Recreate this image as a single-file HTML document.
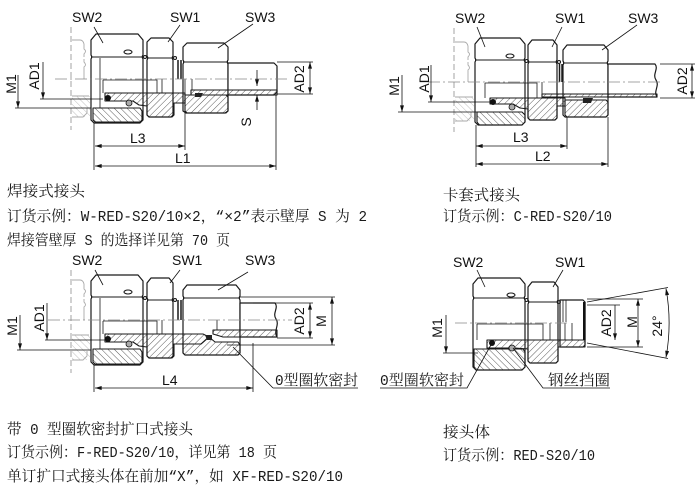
<!DOCTYPE html>
<html><head><meta charset="utf-8">
<style>
html,body{margin:0;padding:0;background:#fff;}
svg{display:block;}
.o{fill:#fff;stroke:#1a1a1a;stroke-width:1.2;stroke-linejoin:round}
.h{stroke:#1a1a1a;stroke-width:1.1;stroke-linejoin:round}
.l{fill:none;stroke:#1a1a1a;stroke-width:1.1}
.t{fill:none;stroke:#1a1a1a;stroke-width:0.8}
.d{fill:none;stroke:#111;stroke-width:0.8}
.c{fill:none;stroke:#888;stroke-width:0.8;stroke-dasharray:12 3 2 3}
.g{fill:none;stroke:#aaa;stroke-width:0.9}
.gd{fill:none;stroke:#9a9a9a;stroke-width:0.9;stroke-dasharray:6 3}
.lab{font-family:"Liberation Sans","DejaVu Sans",sans-serif;font-size:14px;fill:#111}
.cn{font-family:"Liberation Mono","Noto Serif CJK SC",serif;font-size:15px;fill:#1a1a1a}
.m{font-size:14.5px}
</style></head><body>
<svg width="700" height="487" viewBox="0 0 700 487" xmlns="http://www.w3.org/2000/svg">
<defs>
<pattern id="hf" width="4.5" height="4.5" patternUnits="userSpaceOnUse" patternTransform="rotate(45)"><line x1="0" y1="0" x2="0" y2="4.5" stroke="#333" stroke-width="0.8"/></pattern>
<pattern id="hb" width="4.5" height="4.5" patternUnits="userSpaceOnUse" patternTransform="rotate(-45)"><line x1="0" y1="0" x2="0" y2="4.5" stroke="#333" stroke-width="0.8"/></pattern>
<pattern id="hg" width="4.5" height="4.5" patternUnits="userSpaceOnUse" patternTransform="rotate(-45)"><line x1="0" y1="0" x2="0" y2="4.5" stroke="#b0b0b0" stroke-width="0.8"/></pattern>
<marker id="ar" viewBox="0 0 10 6" refX="10" refY="3" markerWidth="9" markerHeight="4" orient="auto-start-reverse" markerUnits="userSpaceOnUse"><path d="M0,0 L10,3 L0,6 Z" fill="#111"/></marker>
</defs>

<!-- ================= DRAWING 1 ================= -->
<path class="gd" d="M71,27 V130"/>
<g transform="translate(91,79)">
 <path class="g" d="M-19,-39 H-11 Q-8,-39 -7,-35 V-30 Q-4,-28 -7,-25 V-22 M-7,-20 V-17 Q-4,-14 -7,-12 V0"/>
 <rect x="-19" y="17" width="18" height="21" fill="url(#hg)"/>
 <path class="g" d="M-19,17 H-2 M-19,38 H-8 L-4,34 V29"/>
 <path class="o" d="M0,-39 L5,-45 H47 L52,-39 V-24 Q50.5,-22 52,-20 V41 L49,44 H3 L0,41 V-20 Q1.5,-22 0,-24 Z"/>
 <path class="l" d="M0,-22 H52"/>
 <ellipse class="l" cx="37" cy="-27" rx="4" ry="2"/>
 <path class="o" d="M56,-37 L60,-41 H78 L82,-37 V-23 Q80.5,-21 82,-19 V36 L80,38 H58 L56,36 V-19 Q57.5,-21 56,-23 Z"/>
 <path class="l" d="M56,-21 H82"/>
 <path class="o" d="M92,-32 L96,-36 H133 L137,-32 V-19 Q135.5,-17 137,-15 V32 L134,34 H95 L92,32 V-15 Q93.5,-17 92,-19 Z"/>
 <path class="l" d="M92,-17 H137"/>
 <path class="o" d="M137,-16 H183 L186,-13 V13 L183,16 H137 Z"/>
 <path class="h" fill="url(#hb)" d="M2,29 H49 L51,32 V41 L49,43 H4 L2,41 Z"/>
 <path class="h" fill="url(#hf)" d="M14,14 H94 V24 H83 V36 L81,38 H58 L56,36 V27 L48,26 L42,22 H14 Z"/>
 <path class="h" fill="url(#hf)" d="M94,16 H135 L137,18 V32 L135,34 H96 L94,32 Z"/>
 <path class="h" fill="url(#hf)" d="M100,11 H186 V16 H100 Z"/>
 <path class="t" d="M12,1 H66 V14 M12,1 V14 M71,0 V14 M9,-21 V29 M94,0 V14 M101,0 V11"/>
 <path d="M87,-19 V0 M90,-19 V0" stroke="#1a1a1a" stroke-width="1.5"/>
 <circle cx="54" cy="-22" r="1.5" class="l"/>
 <circle cx="84" cy="-21" r="1.5" class="l"/>
 <circle cx="17" cy="19" r="3" fill="#111"/>
 <circle cx="38" cy="24" r="3" fill="#aaa" stroke="#111" stroke-width="0.8"/>
 <path d="M104,14 L112,14 L110,18 L104,18 Z" fill="#222"/>
</g>
<path class="c" d="M55,79 H290"/>
<text class="lab" x="72" y="22">SW2</text>
<text class="lab" x="170" y="22">SW1</text>
<text class="lab" x="245" y="22">SW3</text>
<path class="d" d="M94,27 L103,43 M180,25 L168,42 M253,24 L218,48"/>
<path class="d" d="M15,108 H91 M40,99 H103"/>
<path class="d" d="M18,75 V108" marker-end="url(#ar)"/>
<path class="d" d="M43,62 V99" marker-end="url(#ar)"/>
<path class="d" d="M257,70 V86" marker-end="url(#ar)"/>
<path class="d" d="M257,110 V95" marker-end="url(#ar)"/>
<path class="d" d="M277,62 H313 M277,94 H313"/>
<path class="d" d="M310,62 V94" marker-start="url(#ar)" marker-end="url(#ar)"/>
<path class="d" d="M94,123 V170 M185,100 V150 M276,95 V170"/>
<path class="d" d="M95,146 H185" marker-start="url(#ar)" marker-end="url(#ar)"/>
<path class="d" d="M95,166 H276" marker-start="url(#ar)" marker-end="url(#ar)"/>
<text class="lab" text-anchor="middle" dy="0.35em" transform="translate(11,84) rotate(-90)">M1</text>
<text class="lab" text-anchor="middle" dy="0.35em" transform="translate(34,76) rotate(-90)">AD1</text>
<text class="lab" text-anchor="middle" dy="0.35em" transform="translate(246,122) rotate(-90)">S</text>
<text class="lab" text-anchor="middle" dy="0.35em" transform="translate(299,79) rotate(-90)">AD2</text>
<text class="lab" x="130" y="143">L3</text>
<text class="lab" x="175" y="163">L1</text>

<!-- ================= DRAWING 2 ================= -->
<path class="gd" d="M454,28 V132"/>
<g transform="translate(475,82)">
 <path class="g" d="M-20,-40 H-11 Q-8,-40 -7,-36 V-30 Q-4,-28 -7,-25 V-22 M-7,-20 V-17 Q-4,-14 -7,-12 V0"/>
 <rect x="-20" y="15" width="19" height="24" fill="url(#hg)"/>
 <path class="g" d="M-20,15 H-2 M-20,39 H-8 L-4,35 V30"/>
 <path class="o" d="M0,-38 L5,-44 H45 L50,-38 V-24 Q48.5,-22 50,-20 V40 L47,43 H3 L0,40 V-20 Q1.5,-22 0,-24 Z"/>
 <path class="l" d="M0,-22 H50"/>
 <ellipse class="l" cx="35" cy="-26" rx="4" ry="2"/>
 <path class="o" d="M53,-37 L57,-42 H78 L82,-37 V-22 Q80.5,-20 82,-18 V36 L80,38 H55 L53,36 V-18 Q54.5,-20 53,-22 Z"/>
 <path class="l" d="M53,-20 H82"/>
 <path class="o" d="M88,-32 L92,-37 H129 L133,-32 V-21 Q131.5,-19 133,-17 V33 L131,35 H90 L88,33 V-17 Q89.5,-19 88,-21 Z"/>
 <path class="l" d="M88,-19 H133"/>
 <path class="o" d="M133,-18 H180 C184,-13 177,-8 181,-2 C185,4 178,9 182,15 H133 Z"/>
 <path class="h" fill="url(#hb)" d="M2,30 H47 L50,33 V40 L47,43 H4 L2,40 Z"/>
 <path class="h" fill="url(#hf)" d="M15,16 H90 V24 H82 V36 L80,38 H55 L53,36 V27 L45,26 L38,22 H15 Z"/>
 <path class="h" fill="url(#hf)" d="M90,18 H131 L133,20 V33 L131,35 H92 L90,33 Z"/>
 <path class="h" fill="url(#hf)" d="M67,12 H182 V15 H67 Z"/>
 <path class="t" d="M10,1 H62 V16 M10,1 V16 M67,0 V12 M88,0 V12"/>
 <path d="M84.5,-18 V0 M87,-18 V0" stroke="#1a1a1a" stroke-width="1.5"/>
 <circle cx="51.5" cy="-21" r="1.5" class="l"/>
 <circle cx="84" cy="-20" r="1.5" class="l"/>
 <circle cx="18" cy="20" r="3" fill="#111"/>
 <circle cx="37" cy="25" r="3" fill="#aaa" stroke="#111" stroke-width="0.8"/>
 <path d="M108,16 L118,16 L116,21 L108,21 Z" fill="#222"/>
</g>
<path class="c" d="M428,82 H662"/>
<text class="lab" x="455" y="23">SW2</text>
<text class="lab" x="555" y="23">SW1</text>
<text class="lab" x="628" y="23">SW3</text>
<path class="d" d="M477,27 L485,47 M562,27 L552,47 M637,25 L602,50"/>
<path class="d" d="M398,112 H477 M428,102 H493"/>
<path class="d" d="M402,75 V112" marker-end="url(#ar)"/>
<path class="d" d="M431,65 V102" marker-end="url(#ar)"/>
<path class="d" d="M660,64 H695 M660,98 H695"/>
<path class="d" d="M692,64 V98" marker-start="url(#ar)" marker-end="url(#ar)"/>
<path class="d" d="M476,125 V167 M567,117 V149 M608,117 V167"/>
<path class="d" d="M476,146 H567" marker-start="url(#ar)" marker-end="url(#ar)"/>
<path class="d" d="M476,164 H608" marker-start="url(#ar)" marker-end="url(#ar)"/>
<text class="lab" text-anchor="middle" dy="0.35em" transform="translate(394,86) rotate(-90)">M1</text>
<text class="lab" text-anchor="middle" dy="0.35em" transform="translate(424,79) rotate(-90)">AD1</text>
<text class="lab" text-anchor="middle" dy="0.35em" transform="translate(682,81) rotate(-90)">AD2</text>
<text class="lab" x="513" y="142">L3</text>
<text class="lab" x="535" y="161">L2</text>

<!-- ================= DRAWING 3 ================= -->
<path class="gd" d="M71,270 V373"/>
<g transform="translate(91,320)">
 <path class="g" d="M-19,-40 H-11 Q-8,-40 -7,-36 V-31 Q-4,-29 -7,-26 V-23 M-7,-21 V-18 Q-4,-15 -7,-13 V0"/>
 <rect x="-19" y="15" width="18" height="25" fill="url(#hg)"/>
 <path class="g" d="M-19,15 H-2 M-19,40 H-8 L-4,36 V31"/>
 <path class="o" d="M0,-39 L5,-45 H47 L52,-39 V-25 Q50.5,-23 52,-21 V42 L49,45 H3 L0,42 V-21 Q1.5,-23 0,-25 Z"/>
 <path class="l" d="M0,-23 H52"/>
 <ellipse class="l" cx="37" cy="-28" rx="4" ry="2"/>
 <path class="o" d="M56,-37 L60,-42 H78 L82,-37 V-22 Q80.5,-20 82,-18 V36 L80,38 H58 L56,36 V-18 Q57.5,-20 56,-22 Z"/>
 <path class="l" d="M56,-20 H82"/>
 <path class="o" d="M92,-30 L96,-35 H145 L149,-30 V-24 Q147.5,-22 149,-20 V33 L147,35 H94 L92,33 V-20 Q93.5,-22 92,-24 Z"/>
 <path class="l" d="M92,-22 H149"/>
 <path class="o" d="M149,-17 H184 C188,-12 181,-7 185,-1 C189,5 182,11 186,17 H149 Z"/>
 <path class="h" fill="url(#hb)" d="M2,29 H49 L51,32 V42 L49,44 H4 L2,42 Z"/>
 <path class="h" fill="url(#hf)" d="M14,14 H112 L118,17 L110,24 H83 V36 L81,38 H58 L56,36 V27 L48,26 L42,22 H14 Z"/>
 <path class="h" fill="url(#hf)" d="M92,24 H110 L118,17 L124,22 H147 L149,25 V33 L147,35 H94 L92,33 Z"/>
 <path class="h" fill="url(#hf)" d="M122,10 H186 V17 H132 L122,14 Z"/>
 <path class="t" d="M12,1 H66 V14 M12,1 V14 M71,0 V14 M9,-22 V29 M126,0 V10"/>
 <path d="M87,-20 V0 M90,-20 V0" stroke="#1a1a1a" stroke-width="1.5"/>
 <circle cx="54" cy="-22" r="1.5" class="l"/>
 <circle cx="84" cy="-20" r="1.5" class="l"/>
 <circle cx="17" cy="19" r="3" fill="#111"/>
 <circle cx="38" cy="24" r="3" fill="#aaa" stroke="#111" stroke-width="0.8"/>
 <path d="M114,15 L121,15 L121,20 L116,20 Z" fill="#222"/>
</g>
<path class="c" d="M48,320 H292"/>
<text class="lab" x="72" y="265">SW2</text>
<text class="lab" x="172" y="265">SW1</text>
<text class="lab" x="245" y="265">SW3</text>
<path class="d" d="M95,270 L103,285 M180,270 L170,283 M248,272 L218,290"/>
<path class="d" d="M17,350 H91 M45,340 H107"/>
<path class="d" d="M20,315 V350" marker-end="url(#ar)"/>
<path class="d" d="M47,303 V340" marker-end="url(#ar)"/>
<path class="d" d="M253,303 H313 M277,338 H313"/>
<path class="d" d="M310,303 V338" marker-start="url(#ar)" marker-end="url(#ar)"/>
<path class="d" d="M240,297 H335 M227,345 H335"/>
<path class="d" d="M332,297 V345" marker-start="url(#ar)" marker-end="url(#ar)"/>
<path class="d" d="M94,365 V392 M253,343 V392"/>
<path class="d" d="M95,388 H253" marker-start="url(#ar)" marker-end="url(#ar)"/>
<text class="lab" text-anchor="middle" dy="0.35em" transform="translate(12,326) rotate(-90)">M1</text>
<text class="lab" text-anchor="middle" dy="0.35em" transform="translate(39,318) rotate(-90)">AD1</text>
<text class="lab" text-anchor="middle" dy="0.35em" transform="translate(299,321) rotate(-90)">AD2</text>
<text class="lab" text-anchor="middle" dy="0.35em" transform="translate(321,321) rotate(-90)">M</text>
<text class="lab" x="162" y="385">L4</text>
<path class="d" d="M273,388 H358 M273,388 L233,347"/>
<text class="cn" x="275" y="385" textLength="83" lengthAdjust="spacingAndGlyphs"><tspan class="m">0</tspan>型圈软密封</text>

<!-- ================= DRAWING 4 ================= -->
<g transform="translate(475,323)">
 <path class="o" d="M-2,-39 L3,-45 H45 L50,-39 V-27 Q48.5,-25 50,-23 V44 L47,47 H1 L-2,44 V-23 Q-0.5,-25 -2,-27 Z"/>
 <path class="l" d="M-2,-25 H50"/>
 <ellipse class="l" cx="36" cy="-28" rx="4" ry="2"/>
 <path class="o" d="M53,-36 L57,-41 H79 L83,-36 V-23 Q81.5,-21 83,-19 V38 L81,40 H55 L53,38 V-19 Q54.5,-21 53,-23 Z"/>
 <path class="l" d="M53,-21 H83"/>
 <path class="o" d="M85,-23 H108 L110,-21 V22 L108,24 H85 Z"/>
 <path class="h" fill="url(#hb)" d="M-1,26 H48 L50,29 V44 L47,47 H1 L-1,44 Z"/>
 <path class="h" fill="url(#hf)" d="M12,17 H110 V24 H83 V38 L81,40 H55 L53,38 V26 L40,25 H12 Z"/>
 <path class="t" d="M2,1 H68 V17 M2,1 V17 M75,0 V17 M90,0 V17 M97,0 V17 M88,-23 V-1 M91,-23 V-1"/>
 <path d="M109.3,-21 V17" stroke="#111" stroke-width="2.6"/>
 <circle cx="51.5" cy="-23" r="1.5" class="l"/>
 <circle cx="84" cy="-21" r="1.3" class="l"/>
 <circle cx="17" cy="20" r="3" fill="#111"/>
 <circle cx="37" cy="25" r="3" fill="#aaa" stroke="#111" stroke-width="0.8"/>
</g>
<path class="c" d="M455,323 H570"/>
<text class="lab" x="453" y="267">SW2</text>
<text class="lab" x="555" y="267">SW1</text>
<path class="d" d="M477,270 L485,287 M563,270 L553,287"/>
<path class="d" d="M443,353 H478"/>
<path class="d" d="M446,315 V353" marker-end="url(#ar)"/>
<path class="d" d="M587,302 L668,287.5 M587,343 L668,358.5"/>
<path class="d" d="M666,288.5 A194,194 0 0 1 666,357.5" marker-start="url(#ar)" marker-end="url(#ar)"/>
<path class="d" d="M587,305 H620"/>
<path class="d" d="M615,305 V340" marker-end="url(#ar)"/>
<path class="d" d="M587,299 H643 M587,347 H643"/>
<path class="d" d="M638,299 V347" marker-start="url(#ar)" marker-end="url(#ar)"/>
<text class="lab" text-anchor="middle" dy="0.35em" transform="translate(437,328) rotate(-90)">M1</text>
<text class="lab" text-anchor="middle" dy="0.35em" transform="translate(606,323) rotate(-90)">AD2</text>
<text class="lab" text-anchor="middle" dy="0.35em" transform="translate(632,322) rotate(-90)">M</text>
<text class="lab" text-anchor="middle" dy="0.35em" transform="translate(657,326) rotate(-90)">24°</text>
<path class="d" d="M380,388 H467 L492,343"/>
<path class="d" d="M610,388 H543 L513,348"/>
<text class="cn" x="380" y="385" textLength="84" lengthAdjust="spacingAndGlyphs"><tspan class="m">0</tspan>型圈软密封</text>
<text class="cn" x="548" y="385" textLength="62" lengthAdjust="spacingAndGlyphs">钢丝挡圈</text>

<!-- ================= CAPTIONS ================= -->
<text class="cn" x="7" y="196" textLength="78" lengthAdjust="spacingAndGlyphs">焊接式接头</text>
<text class="cn" x="7" y="221" textLength="360" lengthAdjust="spacingAndGlyphs">订货示例：<tspan class="m">W-RED-S20/10</tspan>×<tspan class="m">2</tspan>，“×<tspan class="m">2</tspan>”表示壁厚<tspan class="m"> S </tspan>为<tspan class="m"> 2</tspan></text>
<text class="cn" x="7" y="245" textLength="223" lengthAdjust="spacingAndGlyphs">焊接管壁厚<tspan class="m"> S </tspan>的选择详见第<tspan class="m"> 70 </tspan>页</text>

<text class="cn" x="443" y="200" textLength="77" lengthAdjust="spacingAndGlyphs">卡套式接头</text>
<text class="cn" x="443" y="221" textLength="169" lengthAdjust="spacingAndGlyphs">订货示例：<tspan class="m">C-RED-S20/10</tspan></text>

<text class="cn" x="7" y="434" textLength="186" lengthAdjust="spacingAndGlyphs">带<tspan class="m"> 0 </tspan>型圈软密封扩口式接头</text>
<text class="cn" x="7" y="457" textLength="270" lengthAdjust="spacingAndGlyphs">订货示例：<tspan class="m">F-RED-S20/10</tspan>，详见第<tspan class="m"> 18 </tspan>页</text>
<text class="cn" x="7" y="481" textLength="336" lengthAdjust="spacingAndGlyphs">单订扩口式接头体在前加“<tspan class="m">X</tspan>”，如<tspan class="m"> XF-RED-S20/10</tspan></text>

<text class="cn" x="443" y="437" textLength="47" lengthAdjust="spacingAndGlyphs">接头体</text>
<text class="cn" x="443" y="460" textLength="152" lengthAdjust="spacingAndGlyphs">订货示例：<tspan class="m">RED-S20/10</tspan></text>
</svg>
</body></html>
